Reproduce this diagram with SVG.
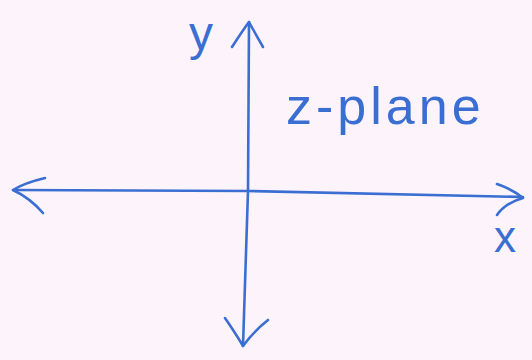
<svg xmlns="http://www.w3.org/2000/svg" width="532" height="360" viewBox="0 0 532 360">
<style>
.ax{fill:none;stroke:#3b6ed2;stroke-width:2.6;stroke-linecap:round;stroke-linejoin:round}
.lbl{fill:#3b6ed2;font-family:"Liberation Sans","DejaVu Sans",sans-serif}
</style>
<rect width="532" height="360" fill="#fcf4fa"/>
<g id="connectors">
<path class="ax" d="M249,22 L248,191 L243,346"/>
<path class="ax" d="M232,47 Q243,30 249,22 Q255,33 263,47"/>
<path class="ax" d="M225,318 Q236,334 243,346 Q254,331 268,320"/>
<path class="ax" d="M13,190 L248,191 L523,197"/>
<path class="ax" d="M45,178 Q24,183 13,190 Q30,198 43,213"/>
<path class="ax" d="M497,184 Q512,189 523,198 Q505,203 497,215"/>
</g>
<g id="label-y"><text class="lbl" x="189" y="50" font-size="48">y</text></g>
<g id="label-x"><text class="lbl" x="494" y="252" font-size="44">x</text></g>
<g id="label-zplane"><text class="lbl" x="286" y="124" font-size="52" letter-spacing="4">z-plane</text></g>
</svg>
